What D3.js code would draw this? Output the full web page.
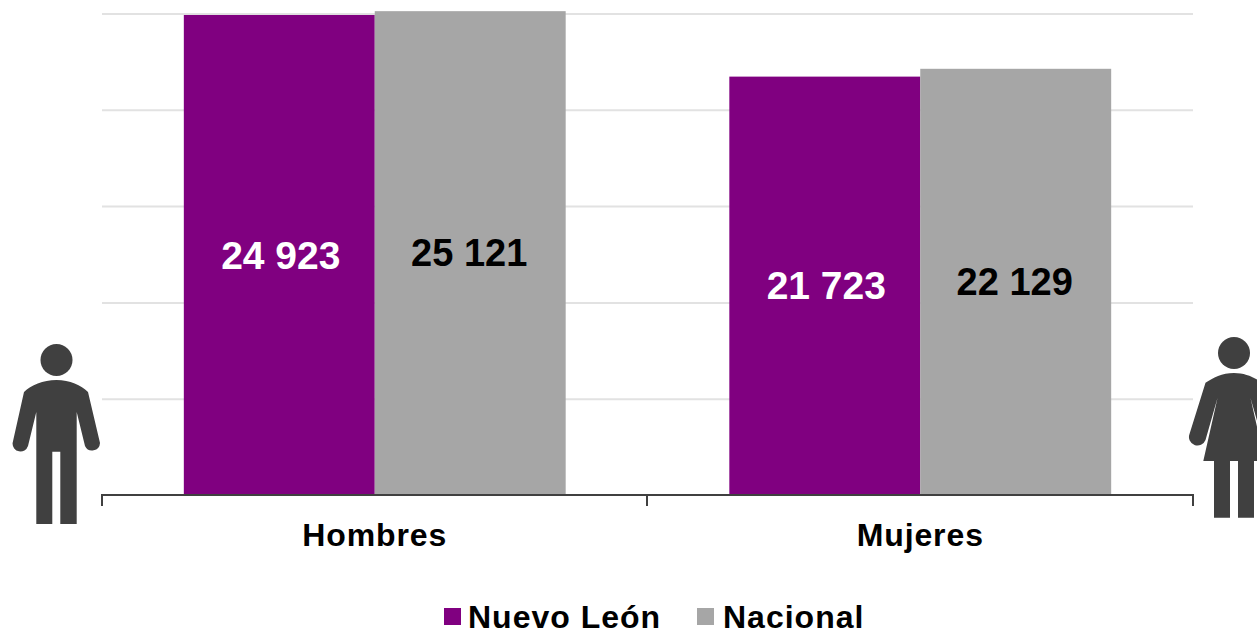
<!DOCTYPE html>
<html>
<head>
<meta charset="utf-8">
<script src="https://cdn.jsdelivr.net/npm/d3@7"></script>
<style>
html,body{margin:0;padding:0;background:#fff;overflow:hidden}
text{font-family:"Liberation Sans",Arial,sans-serif;font-weight:700}
</style>
</head>
<body>
<svg id="c" width="1257" height="629"></svg>
<script>
const categories = ["Hombres", "Mujeres"];
const seriesNames = ["Nuevo León", "Nacional"];
const nuevoLeon = [24923, 21723];
const nacional = [25121, 22129];
const gridTicks = [0, 5000, 10000, 15000, 20000, 25000];
const seriesColors = ["#800080", "#a6a6a6"];
const labelColors = ["#ffffff", "#000000"];
const labelSizes = [39, 38];
const seriesValues = [nuevoLeon, nacional];

const svg = d3.select("#c");
const x = d3.scaleBand().domain(categories).range([102, 1193]).paddingInner(0.3).paddingOuter(0.15);
const x1 = d3.scaleBand().domain(seriesNames).range([0, x.bandwidth()]);
const y = d3.scaleLinear().domain([0, 25000]).range([495, 13.5]);
const fmt = v => d3.format(",")(v).replace(",", " ");

// gridlines
const gridG = svg.append("g").attr("transform", "translate(102,0)")
  .call(d3.axisLeft(y).tickValues(gridTicks.slice(1)).tickSize(-1091).tickFormat(""));
gridG.select(".domain").remove();
gridG.selectAll("line").attr("stroke", "#e2e2e2").attr("stroke-width", 2);

// bars
seriesNames.forEach((s, i) => {
  svg.append("g").selectAll("rect").data(seriesValues[i]).join("rect")
    .attr("x", (d, k) => x(categories[k]) + x1(s))
    .attr("y", d => y(d))
    .attr("width", x1.bandwidth())
    .attr("height", d => y(0) - y(d))
    .attr("fill", seriesColors[i]);
  svg.append("g").selectAll("text").data(seriesValues[i]).join("text")
    .attr("x", (d, k) => x(categories[k]) + x1(s) + x1.bandwidth() / 2 + (i === 0 ? 1.5 : -1))
    .attr("y", d => (y(d) + y(0)) / 2)
    .attr("dy", "0.35em")
    .attr("text-anchor", "middle")
    .attr("font-size", labelSizes[i])
    .attr("fill", labelColors[i])
    .text(fmt);
});

// x axis
const axisG = svg.append("g").attr("transform", "translate(0,495)")
  .call(d3.axisBottom(x).tickSize(0).tickPadding(28));
axisG.select(".domain").attr("stroke", "#404040").attr("stroke-width", 2).attr("d", "M102,11V0H1193V11");
axisG.selectAll("text").attr("font-size", 32).attr("fill", "#000").attr("font-family", '"Liberation Sans"')
  .style("letter-spacing", "0.9px");
axisG.append("line").attr("x1", 647).attr("x2", 647).attr("y1", 0).attr("y2", 11)
  .attr("stroke", "#404040").attr("stroke-width", 2);

// legend
const legendX = [444, 697], legendTextX = [468, 723];
seriesNames.forEach((s, i) => {
  svg.append("rect").attr("x", legendX[i]).attr("y", 608).attr("width", 17).attr("height", 17).attr("fill", seriesColors[i]);
  svg.append("text").attr("x", legendTextX[i]).attr("y", 628).attr("font-size", 32).attr("fill", "#000")
    .style("letter-spacing", "1px").text(s);
});

// pictograms
const ink = "#404040";
svg.append("circle").attr("cx", 56.5).attr("cy", 360).attr("r", 16).attr("fill", ink);
svg.append("path").attr("fill", ink).attr("d",
 "M56.5,380 C70,380 81,385 88,392 L100,443 A7.9,7.9 0 0 1 85,446 L76.7,412 V524 H60.3 V451.7 H52.3 V524 H36.3 V412 L28,446 A7.9,7.9 0 0 1 12.6,443 L24,392 C31,385 43,380 56.5,380 Z");
svg.append("circle").attr("cx", 1234).attr("cy", 353).attr("r", 16).attr("fill", ink);
svg.append("path").attr("fill", ink).attr("d",
 "M1234,373 C1222,373 1213,378 1205.5,382.7 L1189.5,434 A8,8 0 0 0 1205.5,440 L1217.5,398 L1203.3,461 H1214 V517.7 H1230 V461 H1238 V517.7 H1254 V461 H1264.7 L1250.5,398 L1262.5,440 A8,8 0 0 0 1278.5,434 L1262.5,382.7 C1255,378 1246,373 1234,373 Z");
</script>
</body>
</html>
